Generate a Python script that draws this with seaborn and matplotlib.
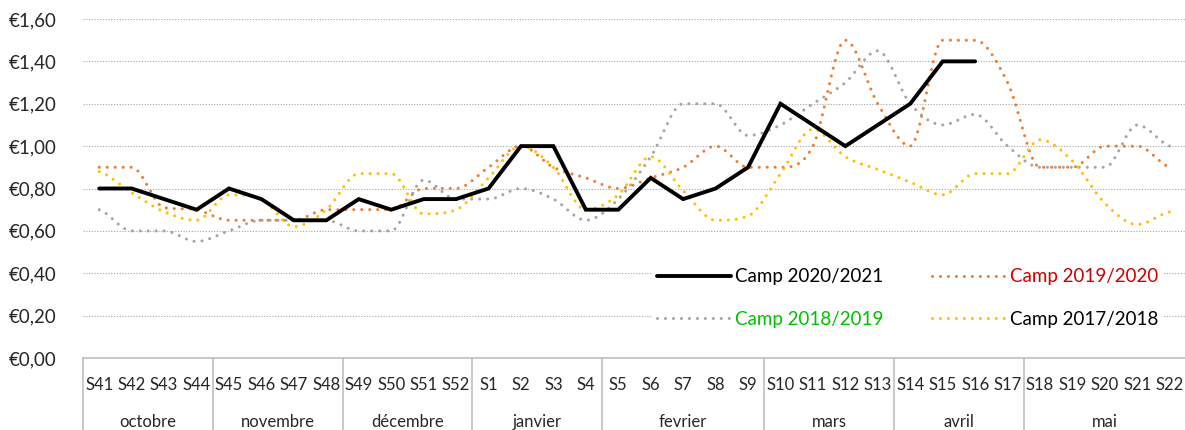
import numpy as np
import pandas as pd
import matplotlib
matplotlib.use("Agg")
import matplotlib.pyplot as plt
import matplotlib.transforms as mtransforms
from matplotlib.lines import Line2D
import seaborn as sns

# data
weeks = ["S41", "S42", "S43", "S44", "S45", "S46", "S47", "S48", "S49", "S50", "S51", "S52",
         "S1", "S2", "S3", "S4", "S5", "S6", "S7", "S8", "S9", "S10", "S11", "S12", "S13",
         "S14", "S15", "S16", "S17", "S18", "S19", "S20", "S21", "S22"]
months = ["octobre", "novembre", "décembre", "janvier", "fevrier", "mars", "avril", "mai"]
month_len = [4, 4, 4, 4, 5, 4, 4, 5]

camp_2020_2021 = [0.80, 0.80, 0.75, 0.70, 0.80, 0.75, 0.65, 0.65, 0.75, 0.70, 0.75, 0.75,
                  0.80, 1.00, 1.00, 0.70, 0.70, 0.85, 0.75, 0.80, 0.90, 1.20, 1.10, 1.00,
                  1.10, 1.20, 1.40, 1.40, None, None, None, None, None, None]
camp_2019_2020 = [0.90, 0.90, 0.71, 0.70, 0.65, 0.65, 0.65, 0.70, 0.70, 0.70, 0.80, 0.80,
                  0.90, 1.00, 0.90, 0.85, 0.80, 0.85, 0.90, 1.00, 0.90, 0.90, 1.00, 1.50,
                  1.20, 1.00, 1.50, 1.50, 1.30, 0.90, 0.90, 1.00, 1.00, 0.90]
camp_2018_2019 = [0.70, 0.60, 0.60, 0.55, 0.60, 0.65, 0.65, 0.65, 0.60, 0.60, 0.84, 0.75,
                  0.75, 0.80, 0.75, 0.65, 0.75, 0.95, 1.20, 1.20, 1.05, 1.10, 1.20, 1.30,
                  1.45, 1.20, 1.10, 1.15, 1.00, 0.90, 0.90, 0.90, 1.10, 1.00]
camp_2017_2018 = [0.88, 0.78, 0.69, 0.65, 0.77, 0.75, 0.62, 0.70, 0.87, 0.87, 0.68, 0.70,
                  0.85, 1.00, 0.90, 0.70, 0.77, 0.95, 0.79, 0.65, 0.67, 0.87, 1.08, 0.95,
                  0.89, 0.83, 0.77, 0.87, 0.87, 1.03, 0.93, 0.73, 0.63, 0.69]


def smooth(y, n=24):
    # smoothed line like the spreadsheet one, without overshoot on flat parts
    y = np.asarray(y, dtype=float)
    d = np.diff(y)
    m = np.zeros_like(y)
    for i in range(len(y)):
        if i == 0:
            m[i] = d[0] / 2
        elif i == len(y) - 1:
            m[i] = d[-1] / 2
        elif d[i - 1] * d[i] > 0:
            m[i] = (d[i - 1] + d[i]) / 2
            lim = 3 * min(abs(d[i - 1]), abs(d[i]))
            m[i] = np.sign(m[i]) * min(abs(m[i]), lim)
    xs, ys = [], []
    t = np.linspace(0, 1, n, endpoint=False)
    for i in range(len(y) - 1):
        h00 = 2 * t ** 3 - 3 * t ** 2 + 1
        h10 = t ** 3 - 2 * t ** 2 + t
        h01 = -2 * t ** 3 + 3 * t ** 2
        h11 = t ** 3 - t ** 2
        xs.extend(i + t)
        ys.extend(h00 * y[i] + h10 * m[i] + h01 * y[i + 1] + h11 * m[i + 1])
    xs.append(len(y) - 1)
    ys.append(y[-1])
    return np.array(xs), np.array(ys)


sns.set_style("white")
plt.rcParams["font.family"] = ["Lato", "DejaVu Sans"]

fig = plt.figure(figsize=(11.85, 4.30), dpi=100)
W, H = 1185, 430
ax = fig.add_axes([83 / W, (430 - 358) / H, (1186 - 83) / W, (358 - 19) / H])

dot = (0, (0.01, 2.6))
series = [
    ("Camp 2019/2020", camp_2019_2020, "#ED7D31"),
    ("Camp 2018/2019", camp_2018_2019, "#A5A5A5"),
    ("Camp 2017/2018", camp_2017_2018, "#FFC000"),
]
for name, vals, col in series:
    sx, sy = smooth(vals)
    sns.lineplot(x=sx, y=sy, sort=False, ax=ax, color=col, lw=2.2,
                 linestyle=dot, dash_capstyle="round", zorder=2)

df = pd.DataFrame({"x": np.arange(len(weeks)),
                   "y": pd.to_numeric(pd.Series(camp_2020_2021), errors="coerce")})
sns.lineplot(data=df.dropna(), x="x", y="y", ax=ax, color="black", lw=2.8,
             solid_joinstyle="miter", zorder=3)

ax.set_xlim(-0.5, len(weeks) - 0.5)
ax.set_ylim(0, 1.6)
ax.set_yticks(np.arange(0, 1.61, 0.2))
ax.set_yticklabels(["€" + f"{v:.2f}".replace(".", ",") for v in np.arange(0, 1.61, 0.2)])
ax.yaxis.grid(True, color="#A6A6A6", linestyle=(0, (1, 1.5)), lw=0.8)
ax.set_axisbelow(True)
for s in ["top", "right", "left"]:
    ax.spines[s].set_visible(False)
ax.spines["bottom"].set_color("#BFBFBF")
ax.spines["bottom"].set_linewidth(1.2)
ax.tick_params(axis="y", length=0, pad=19, labelsize=13.5)
ax.set_xticks(np.arange(len(weeks)))
ax.set_xticklabels(weeks)
ax.tick_params(axis="x", length=0, pad=14, labelsize=12)
ax.set_xlabel("")
ax.set_ylabel("")

# month groups under the week labels
trans = mtransforms.blended_transform_factory(ax.transData, ax.transAxes)
edges = np.concatenate([[0], np.cumsum(month_len)]) - 0.5
for i, m in enumerate(months):
    ax.text((edges[i] + edges[i + 1]) / 2, -0.19, m, transform=trans,
            ha="center", va="center", fontsize=12)
for e in edges[:-1]:
    ax.add_line(Line2D([e, e], [0, -0.25], transform=trans, color="#BFBFBF",
                       lw=1.2, clip_on=False))

# legend
h = [Line2D([], [], color="black", lw=2.8),
     Line2D([], [], color="#A5A5A5", lw=2.2, linestyle=dot, dash_capstyle="round"),
     Line2D([], [], color="#ED7D31", lw=2.2, linestyle=dot, dash_capstyle="round"),
     Line2D([], [], color="#FFC000", lw=2.2, linestyle=dot, dash_capstyle="round")]
labels = ["Camp 2020/2021", "Camp 2018/2019", "Camp 2019/2020", "Camp 2017/2018"]
leg = ax.legend(h, labels, ncol=2, loc="center", bbox_to_anchor=(0.748, 0.177),
                frameon=True, facecolor="white", edgecolor="none", framealpha=1,
                fontsize=13.5, handlelength=3.9, handletextpad=0.25, columnspacing=2.6,
                labelspacing=1.35, borderpad=0.3)
text_colors = ["black", "#00C000", "#CC0000", "black"]
for t, c in zip(leg.get_texts(), text_colors):
    t.set_color(c)

fig.savefig("out.png", dpi=100)
